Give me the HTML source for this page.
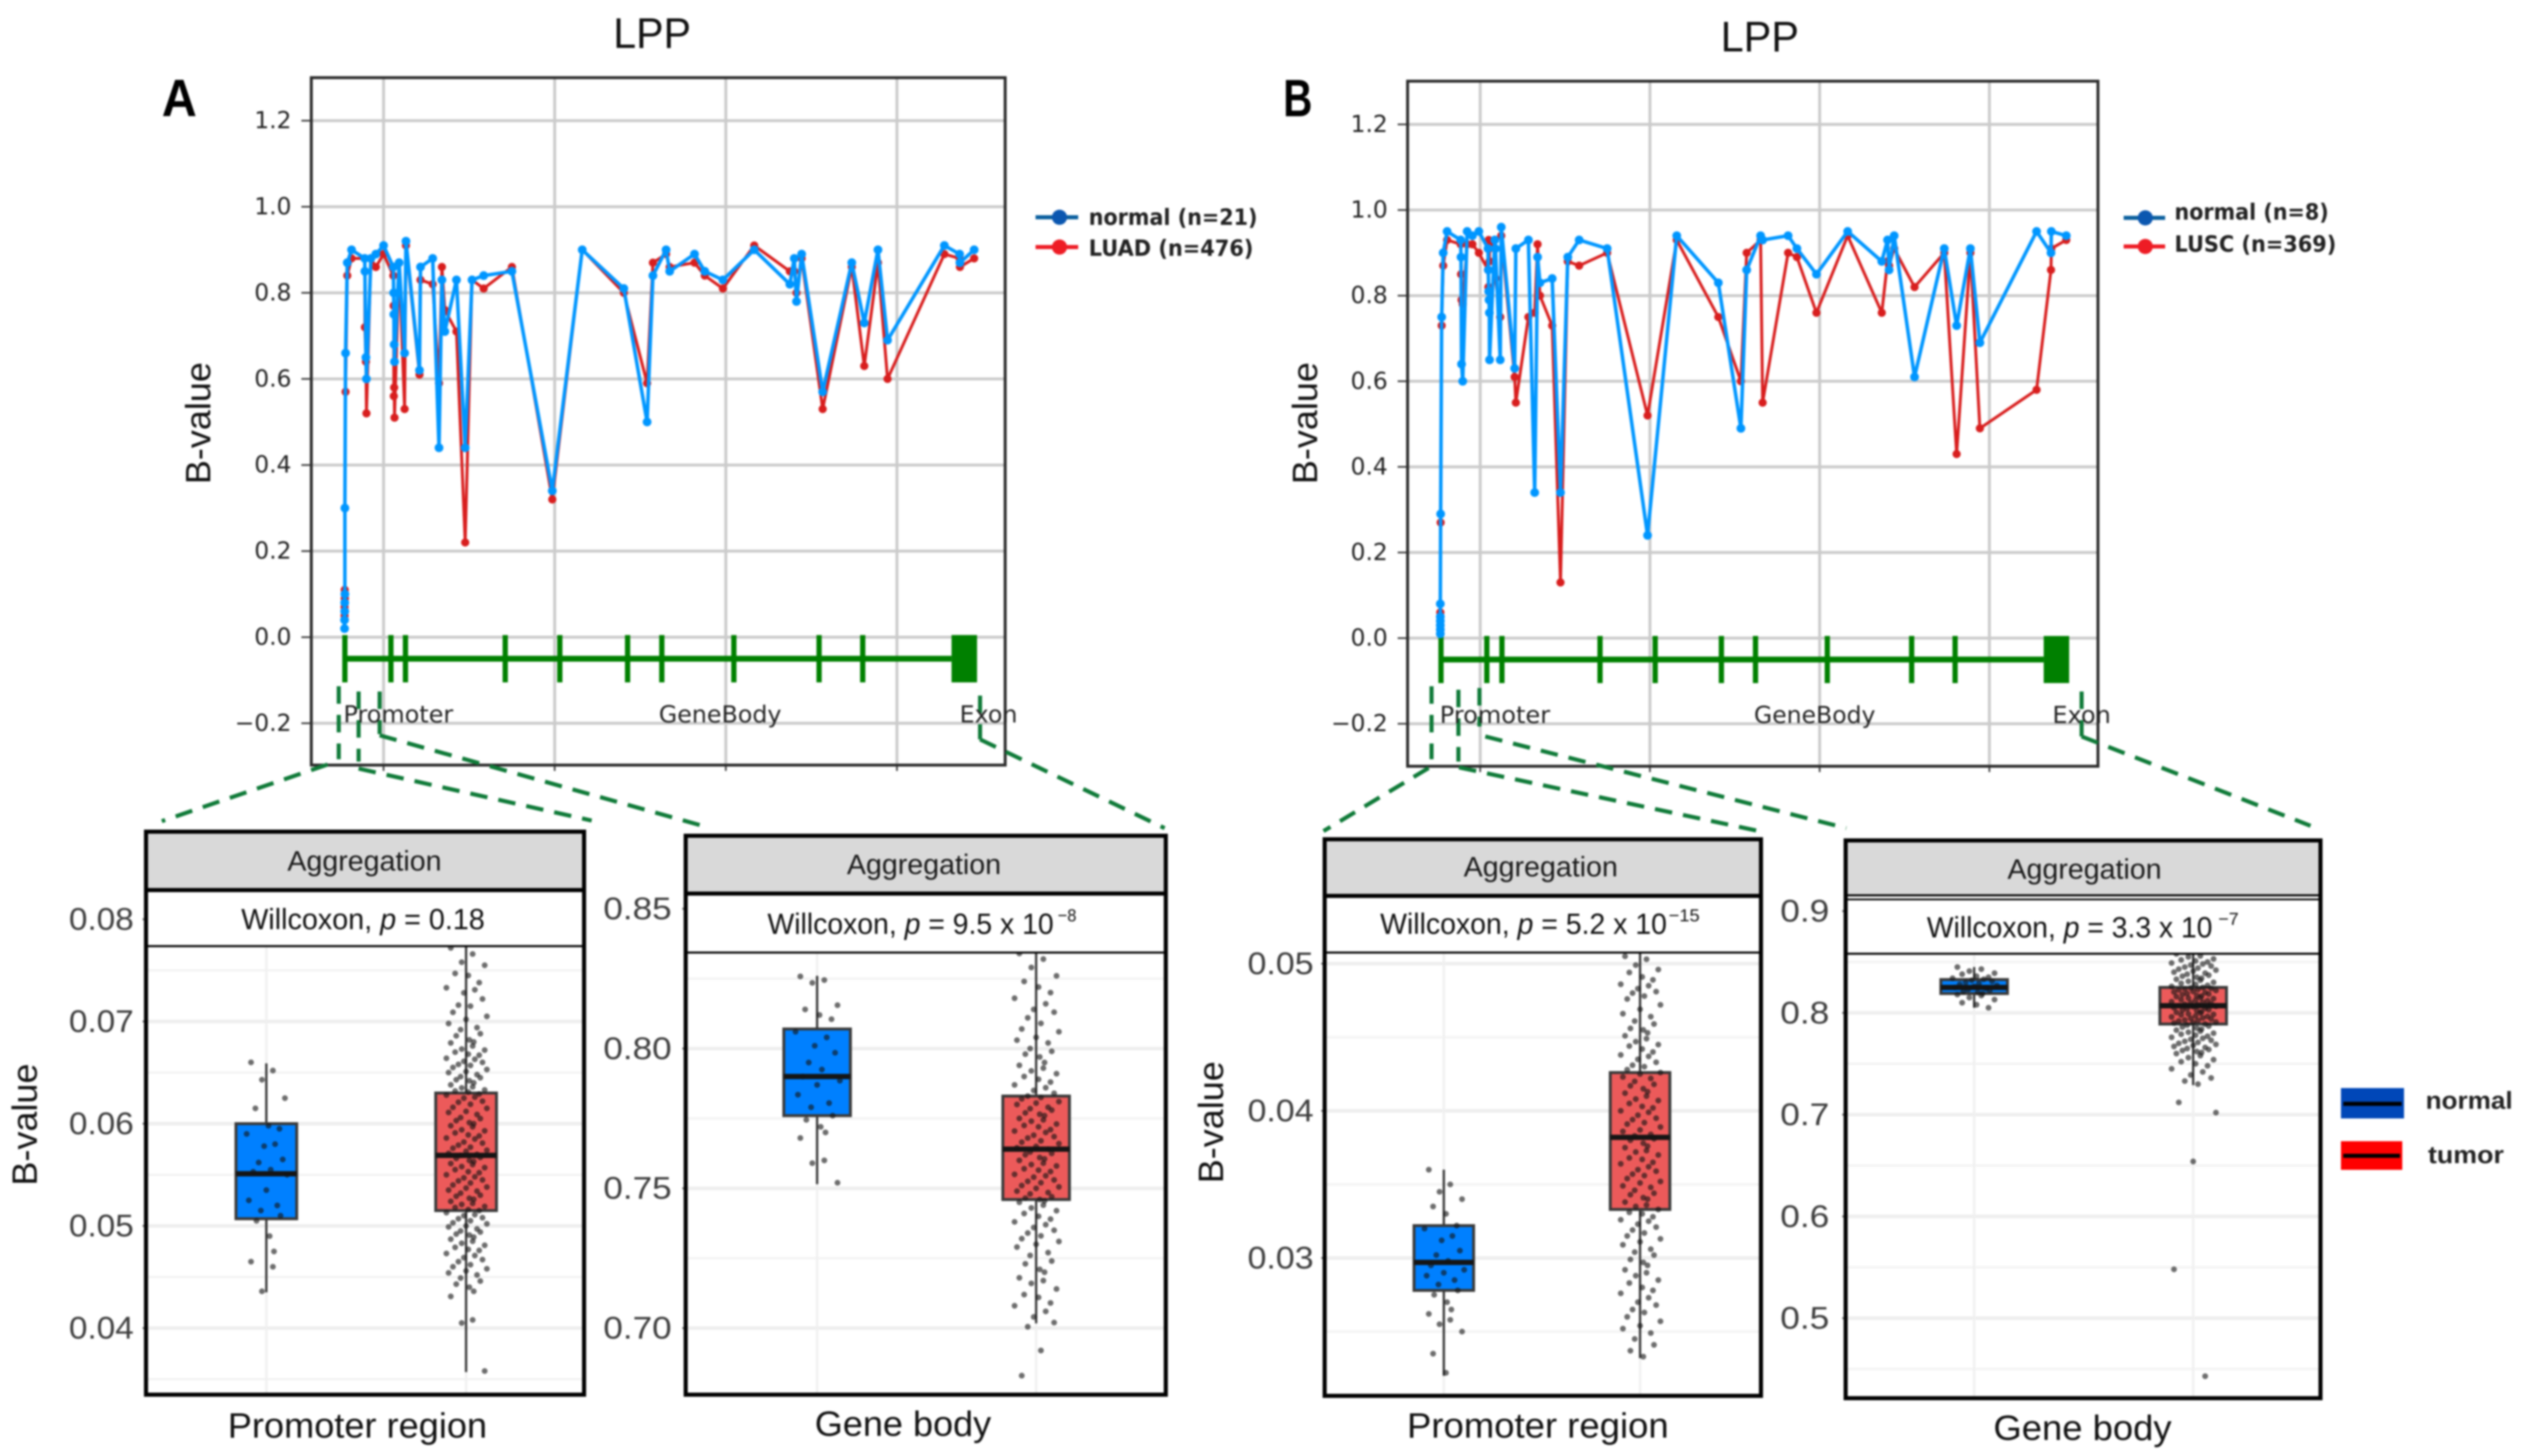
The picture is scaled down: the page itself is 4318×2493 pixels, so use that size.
<!DOCTYPE html>
<html lang="en">
<head>
<meta charset="utf-8">
<title>LPP methylation B-value figure</title>
<style>
html,body{margin:0;padding:0;background:#fff;}
svg{display:block;filter:blur(1.6px);}
text{font-family:"Liberation Sans",sans-serif;}
.dv{font-family:"DejaVu Sans",sans-serif;}
</style>
</head>
<body>
<svg id="fig" xmlns="http://www.w3.org/2000/svg" width="4318" height="2493" viewBox="0 0 4318 2493">
<rect x="0" y="0" width="4318" height="2493" fill="#fff"/>
<g id="panel-a"></g>
<g id="panel-b"></g>
<g id="box1"></g>
<g id="box2"></g>
<g id="box3"></g>
<g id="box4"></g>

<g fill="none" stroke="#0f7a38" stroke-width="7" stroke-dasharray="30 19">
<line x1="580" y1="1175" x2="580" y2="1300"/>
<line x1="614" y1="1184" x2="614" y2="1304"/>
<line x1="650" y1="1184" x2="650" y2="1257"/>
<line x1="650" y1="1259" x2="1203" y2="1414"/>
<line x1="614" y1="1316" x2="1013" y2="1405"/>
<line x1="561" y1="1309" x2="277" y2="1406"/>
<line x1="1678" y1="1191" x2="1678" y2="1266"/>
<line x1="1678" y1="1266" x2="1994" y2="1418"/>
<line x1="2451" y1="1175" x2="2451" y2="1300"/>
<line x1="2497" y1="1181" x2="2497" y2="1304"/>
<line x1="2533" y1="1178" x2="2533" y2="1244"/>
<line x1="2543" y1="1261" x2="3161" y2="1418"/>
<line x1="2498" y1="1314" x2="3007" y2="1422"/>
<line x1="2446" y1="1315" x2="2266" y2="1423"/>
<line x1="3564" y1="1184" x2="3564" y2="1261"/>
<line x1="3564" y1="1261" x2="3956" y2="1414"/>
</g>

<text x="1050" y="82" font-size="73" textLength="133" lengthAdjust="spacingAndGlyphs" fill="#111">LPP</text>
<text x="2946" y="88" font-size="73" textLength="134" lengthAdjust="spacingAndGlyphs" fill="#111">LPP</text>
<text x="277" y="199" font-size="90" font-weight="700" textLength="60" lengthAdjust="spacingAndGlyphs" fill="#000">A</text>
<text x="2197" y="199" font-size="90" font-weight="700" textLength="50" lengthAdjust="spacingAndGlyphs" fill="#000">B</text>
<text transform="translate(360,829) rotate(-90)" font-size="60" textLength="209" lengthAdjust="spacingAndGlyphs" fill="#111">B-value</text>
<text transform="translate(2255,829) rotate(-90)" font-size="60" textLength="209" lengthAdjust="spacingAndGlyphs" fill="#111">B-value</text>
<text transform="translate(63,2030) rotate(-90)" font-size="60" textLength="209" lengthAdjust="spacingAndGlyphs" fill="#111">B-value</text>
<text transform="translate(2094,2026) rotate(-90)" font-size="60" textLength="209" lengthAdjust="spacingAndGlyphs" fill="#111">B-value</text>

<g class="dv" font-size="40" fill="#222" dominant-baseline="central">
<text class="dv" x="588" y="1224" textLength="188" lengthAdjust="spacingAndGlyphs" dominant-baseline="central">Promoter</text>
<text class="dv" x="1128" y="1224" textLength="210" lengthAdjust="spacingAndGlyphs" dominant-baseline="central">GeneBody</text>
<text class="dv" x="1643" y="1224" textLength="99" lengthAdjust="spacingAndGlyphs" dominant-baseline="central">Exon</text>
<text class="dv" x="2465" y="1225" textLength="189" lengthAdjust="spacingAndGlyphs" dominant-baseline="central">Promoter</text>
<text class="dv" x="3003" y="1225" textLength="208" lengthAdjust="spacingAndGlyphs" dominant-baseline="central">GeneBody</text>
<text class="dv" x="3514" y="1225" textLength="100" lengthAdjust="spacingAndGlyphs" dominant-baseline="central">Exon</text>
</g>

<g>
<line x1="1773" y1="372" x2="1846" y2="372" stroke="#0a5f9e" stroke-width="7"/>
<circle cx="1814" cy="372" r="13" fill="#0b57b0"/>
<text class="dv" x="1864" y="372" font-size="38" font-weight="700" fill="#222" textLength="289" lengthAdjust="spacingAndGlyphs" dominant-baseline="central">normal (n=21)</text>
<line x1="1773" y1="423" x2="1846" y2="423" stroke="#ee1c25" stroke-width="7"/>
<circle cx="1814" cy="423" r="13" fill="#ee1c25"/>
<text class="dv" x="1864" y="425" font-size="38" font-weight="700" fill="#222" textLength="282" lengthAdjust="spacingAndGlyphs" dominant-baseline="central">LUAD (n=476)</text>
</g>
<g>
<line x1="3636" y1="373" x2="3707" y2="373" stroke="#0a5f9e" stroke-width="7"/>
<circle cx="3673" cy="373" r="13" fill="#0b57b0"/>
<text class="dv" x="3723" y="363" font-size="38" font-weight="700" fill="#222" textLength="264" lengthAdjust="spacingAndGlyphs" dominant-baseline="central">normal (n=8)</text>
<line x1="3636" y1="422" x2="3707" y2="422" stroke="#ee1c25" stroke-width="7"/>
<circle cx="3673" cy="422" r="13" fill="#ee1c25"/>
<text class="dv" x="3723" y="418" font-size="38" font-weight="700" fill="#222" textLength="277" lengthAdjust="spacingAndGlyphs" dominant-baseline="central">LUSC (n=369)</text>
</g>
<g>
<rect x="4008" y="1863" width="108" height="52" fill="#0047b8"/>
<line x1="4012" y1="1890" x2="4112" y2="1890" stroke="#000" stroke-width="7"/>
<text x="4153" y="1884" font-size="42" font-weight="700" fill="#222" textLength="149" lengthAdjust="spacingAndGlyphs" dominant-baseline="central">normal</text>
<rect x="4008" y="1954" width="105" height="49" fill="#ff0000"/>
<line x1="4012" y1="1979" x2="4109" y2="1979" stroke="#000" stroke-width="7"/>
<text x="4157" y="1977" font-size="42" font-weight="700" fill="#222" textLength="130" lengthAdjust="spacingAndGlyphs" dominant-baseline="central">tumor</text>
</g>

<text x="390" y="2441" font-size="60" fill="#111" textLength="444" lengthAdjust="spacingAndGlyphs" dominant-baseline="central">Promoter region</text>
<text x="1395" y="2438" font-size="60" fill="#111" textLength="302" lengthAdjust="spacingAndGlyphs" dominant-baseline="central">Gene body</text>
<text x="2409" y="2441" font-size="60" fill="#111" textLength="448" lengthAdjust="spacingAndGlyphs" dominant-baseline="central">Promoter region</text>
<text x="3413" y="2445" font-size="60" fill="#111" textLength="305" lengthAdjust="spacingAndGlyphs" dominant-baseline="central">Gene body</text>
</svg>

<script>
// ---------- line chart data ----------
const yTicksTop = [1.2, 1.0, 0.8, 0.6, 0.4, 0.2, 0.0, -0.2];
const xGridTop = [0, 1000, 2000, 3000];

const positionA = [-228,-228,-227,-227,-226,-226,-222,-212,-187,-110,-109,-103,-100,-74,-45,0,57,59,60,62,64,91,123,131,210,216,287,324,341,358,426,477,517,585,750,986,1161,1404,1540,1574,1651,1672,1817,1877,1983,2166,2374,2400,2413,2443,2566,2736,2809,2889,2945,3277,3366,3368,3451];
const normalA = [.02,.04,.06,.08,.10,.30,.66,.87,.90,.88,.85,.65,.60,.88,.89,.91,.86,.80,.75,.68,.64,.87,.66,.92,.62,.86,.88,.44,.83,.71,.83,.44,.83,.84,.85,.34,.90,.81,.50,.84,.90,.85,.89,.85,.83,.90,.82,.88,.78,.89,.57,.87,.73,.90,.69,.91,.89,.87,.90];
const tumorA = [.05,.07,.09,.11,.09,.30,.57,.84,.88,.88,.72,.64,.52,.88,.86,.89,.84,.77,.56,.58,.51,.87,.53,.91,.61,.83,.82,.59,.86,.76,.71,.22,.83,.81,.86,.32,.90,.80,.59,.87,.89,.86,.87,.84,.81,.91,.85,.85,.80,.88,.53,.86,.63,.87,.60,.89,.88,.86,.88];
const exonsA = [-226,43,128,711,1030,1426,1626,2047,2545,2800];
const lastExonA = [3319,3468];

const positionB = [-235,-235,-235,-235,-235,-235,-233,-227,-218,-195,-115,-113,-110,-103,-77,-46,-8,46,48,50,52,54,55,86,90,118,124,203,210,284,321,338,352,424,473,516,583,748,986,1158,1403,1536,1570,1652,1664,1814,1866,1981,2165,2366,2400,2409,2439,2559,2734,2807,2888,2944,3278,3363,3365,3453];
const normalB = [.01,.02,.03,.04,.05,.08,.29,.75,.90,.95,.93,.89,.64,.60,.95,.94,.95,.91,.86,.81,.79,.76,.65,.93,.91,.65,.96,.63,.91,.93,.34,.89,.83,.84,.34,.89,.93,.91,.24,.94,.83,.49,.86,.94,.93,.94,.91,.85,.95,.88,.93,.86,.94,.61,.91,.73,.91,.69,.95,.90,.95,.94];
const tumorB = [.02,.04,.03,.05,.06,.06,.27,.73,.87,.93,.92,.85,.79,.78,.92,.92,.90,.86,.82,.93,.92,.88,.91,.93,.84,.75,.94,.61,.55,.75,.76,.92,.80,.73,.13,.88,.87,.90,.52,.93,.75,.60,.90,.93,.55,.90,.89,.76,.94,.76,.88,.87,.91,.82,.90,.43,.90,.49,.58,.86,.91,.93];
const exonsB = [-231,39,128,706,1031,1421,1622,2045,2542,2798];
const lastExonB = [3320,3470];

// ---------- box plot data: [q1, median, q3, whiskerLow, whiskerHigh] ----------
const statsP1Normal = [.0507,.0551,.0600,.0435,.0659];
const statsP1Tumor  = [.0515,.0569,.0630,.0357,.0775];
const statsP2Normal = [.776,.790,.807,.7515,.826];
const statsP2Tumor  = [.746,.764,.783,.7017,.834];
const statsP3Normal = [.0278,.0297,.0322,.0220,.0360];
const statsP3Tumor  = [.0333,.0382,.0426,.0232,.0507];
const statsP4Normal = [.819,.825,.8327,.805,.845];
const statsP4Tumor  = [.789,.807,.825,.729,.858];

const ticksP1 = ['0.08','0.07','0.06','0.05','0.04'];
const ticksP2 = ['0.85','0.80','0.75','0.70'];
const ticksP3 = ['0.05','0.04','0.03'];
const ticksP4 = ['0.9','0.8','0.7','0.6','0.5'];
const minorP1 = [.075,.065,.055,.045,.035];
const minorP2 = [.825,.775,.725];
const minorP3 = [.045,.035,.025];
const minorP4 = [.85,.75,.65,.55,.45];

// individual samples, read approximately from the strip of jittered dots
const dotsP1Normal = [.0660,.0652,.0643,.0625,.0615,.0598,.0595,.0590,.0580,.0578,.0565,.0562,.0555,.0553,.0550,.0535,.0525,.0520,.0515,.0510,.0505,.0490,.0475,.0465,.0460,.0436];
const dotsP1Tumor = [.0772,.0766,.0758,.0755,.0747,.0745,.0738,.0733,.0731,.0728,.0722,.0716,.0715,.0709,.0705,.0702,.0698,.0694,.0692,.0688,.0686,.0682,.0680,.0679,.0676,.0673,.0672,.0670,.0668,.0667,.0664,.0663,.0661,.0660,.0658,.0657,.0655,.0653,.0651,.0650,.0648,.0646,.0645,.0643,.0642,.0640,.0638,.0636,.0635,.0633,.0632,.0631,.0629,.0628,.0626,.0625,.0622,.0621,.0619,.0616,.0615,.0612,.0611,.0609,.0606,.0605,.0603,.0601,.0600,.0598,.0597,.0594,.0593,.0591,.0589,.0588,.0586,.0585,.0582,.0581,.0579,.0577,.0576,.0574,.0573,.0571,.0570,.0569,.0567,.0566,.0564,.0563,.0561,.0560,.0558,.0557,.0555,.0553,.0552,.0550,.0548,.0547,.0545,.0544,.0542,.0540,.0538,.0537,.0535,.0534,.0532,.0530,.0529,.0527,.0526,.0524,.0522,.0521,.0519,.0518,.0516,.0515,.0513,.0511,.0510,.0508,.0507,.0505,.0503,.0502,.0500,.0499,.0497,.0495,.0494,.0492,.0491,.0489,.0487,.0485,.0483,.0481,.0479,.0477,.0476,.0473,.0471,.0469,.0467,.0465,.0462,.0460,.0458,.0456,.0454,.0452,.0449,.0446,.0443,.0440,.0436,.0431,.0408,.0405,.0358];
const dotsP2Normal = [.8258,.8245,.8235,.8155,.8140,.8120,.8105,.8060,.8040,.8010,.7985,.7950,.7925,.7900,.7885,.7870,.7835,.7805,.7790,.7760,.7745,.7720,.7700,.7680,.7600,.7590,.7520];
const dotsP2Tumor = [.834,.832,.829,.826,.824,.822,.820,.818,.816,.814,.813,.811,.809,.807,.806,.804,.803,.802,.800,.799,.798,.797,.795,.794,.793,.792,.791,.790,.789,.788,.787,.786,.785,.784,.783,.7825,.782,.781,.7805,.780,.779,.7785,.778,.777,.7765,.776,.775,.7745,.774,.773,.7725,.772,.771,.7705,.770,.769,.7685,.768,.767,.7665,.766,.765,.7645,.764,.763,.7625,.762,.761,.7605,.760,.759,.7585,.758,.757,.7565,.756,.755,.7545,.754,.753,.7525,.752,.751,.7505,.750,.749,.7485,.748,.747,.7465,.746,.7455,.745,.744,.743,.742,.741,.740,.739,.738,.737,.736,.735,.734,.733,.732,.731,.730,.729,.727,.726,.724,.723,.721,.720,.718,.717,.716,.714,.712,.711,.709,.708,.706,.704,.702,.7005,.692,.683];
const dotsP3Normal = [.0360,.0350,.0345,.0340,.0335,.0330,.0322,.0320,.0315,.0312,.0305,.0302,.0298,.0295,.0292,.0290,.0288,.0285,.0282,.0278,.0275,.0270,.0265,.0262,.0258,.0255,.0250,.0235,.0222];
const dotsP3Tumor = [.0505,.0503,.0499,.0496,.0494,.0491,.0489,.0486,.0485,.0483,.0481,.0480,.0478,.0476,.0472,.0469,.0466,.0464,.0461,.0459,.0456,.0455,.0453,.0451,.0449,.0447,.0445,.0444,.0442,.0440,.0438,.0437,.0435,.0433,.0431,.0430,.0428,.0426,.0425,.0423,.0422,.0420,.0418,.0417,.0415,.0413,.0412,.0410,.0408,.0407,.0405,.0403,.0402,.0400,.0399,.0397,.0395,.0394,.0392,.0391,.0389,.0387,.0386,.0384,.0383,.0381,.0380,.0378,.0376,.0375,.0373,.0372,.0370,.0368,.0367,.0365,.0364,.0362,.0360,.0359,.0357,.0356,.0354,.0352,.0351,.0349,.0348,.0346,.0344,.0343,.0341,.0340,.0338,.0336,.0335,.0333,.0331,.0330,.0328,.0326,.0325,.0323,.0321,.0319,.0317,.0315,.0313,.0311,.0309,.0306,.0304,.0302,.0299,.0297,.0295,.0292,.0290,.0288,.0285,.0283,.0280,.0278,.0276,.0273,.0270,.0268,.0265,.0263,.0260,.0257,.0254,.0252,.0249,.0245,.0241,.0237,.0233];
const dotsP4Normal = [.845,.843,.841,.839,.838,.836,.835,.834,.833,.832,.831,.830,.829,.828,.827,.826,.825,.824,.823,.822,.821,.820,.819,.818,.817,.815,.813,.810,.808,.805];
const dotsP4Tumor = [.858,.856,.855,.853,.852,.851,.850,.849,.848,.847,.846,.845,.844,.843,.842,.841,.840,.839,.838,.837,.836,.835,.834,.833,.832,.831,.830,.829,.828,.827,.826,.825,.8245,.824,.8235,.823,.8225,.822,.821,.8205,.820,.819,.8185,.818,.817,.8165,.816,.815,.8145,.814,.813,.8125,.812,.811,.8105,.810,.809,.8085,.808,.807,.8065,.806,.805,.8045,.804,.803,.8025,.802,.801,.8005,.800,.799,.7985,.798,.797,.7965,.796,.795,.7945,.794,.793,.7925,.792,.791,.7905,.790,.789,.788,.787,.786,.785,.784,.783,.782,.781,.780,.779,.778,.777,.776,.775,.774,.773,.772,.771,.770,.769,.768,.767,.766,.765,.764,.763,.762,.761,.760,.758,.756,.754,.752,.750,.748,.745,.742,.739,.736,.733,.730,.712,.702,.654,.548,.443];

// horizontal scatter of the strip, as fractions of the half-width
const jitterPattern = [-.7,.3,-.2,.85,-.5,.1,.6,-.9,.4,-.1,.75,-.35,.2,-.6,.95,0,-.8,.5,-.25,.65,-.45,.15,.35];

// ---------- drawing ----------
const NS = 'http://www.w3.org/2000/svg';
function mk(tag, attrs, parent) {
  const el = document.createElementNS(NS, tag);
  for (const k in attrs) el.setAttribute(k, attrs[k]);
  parent.appendChild(el);
  return el;
}

function drawLineChart(g, box, xOf, yOf, positions, normal, tumor, exons, lastExon) {
  for (const t of yTicksTop) {
    const grid = mk('line', {x1: box.l, x2: box.r, y1: yOf(t), y2: yOf(t), stroke: '#cbcbcb', 'stroke-width': 5}, g);
    
    
    const tick = mk('line', {x1: box.l - 17, x2: box.l, y1: yOf(t), y2: yOf(t), stroke: '#444', 'stroke-width': 3}, g);
    
    
    const lab = mk('text', {x: box.l - 34, y: yOf(t), 'font-size': 40, fill: '#222', 'text-anchor': 'end', 'dominant-baseline': 'central', class: 'dv'}, g);
    
    
    lab.textContent = (t < 0 ? '\u2212' : '') + Math.abs(t).toFixed(1);
  }
  for (const v of xGridTop) {
    const grid = mk('line', {x1: xOf(v), x2: xOf(v), y1: box.t, y2: box.b, stroke: '#cbcbcb', 'stroke-width': 5}, g);
    
    
    const tick = mk('line', {x1: xOf(v), x2: xOf(v), y1: box.b, y2: box.b + 10, stroke: '#444', 'stroke-width': 3}, g);
    
    
  }
  const frame = mk('rect', {x: box.l, y: box.t, width: box.r - box.l, height: box.b - box.t, fill: 'none', stroke: '#2b2b2b', 'stroke-width': 5}, g);
  
  

  // gene model
  const backbone = mk('line', {x1: xOf(exons[0]), x2: xOf(lastExon[0]), y1: yOf(-0.05), y2: yOf(-0.05), stroke: '#008000', 'stroke-width': 10}, g);
  
  
  for (const e of exons) {
    const ex = mk('line', {x1: xOf(e), x2: xOf(e), y1: yOf(0.005), y2: yOf(-0.105), stroke: '#008000', 'stroke-width': 9}, g);
    
    
  }
  const block = mk('rect', {x: xOf(lastExon[0]), width: xOf(lastExon[1]) - xOf(lastExon[0]), y: yOf(0.005), height: yOf(-0.105) - yOf(0.005), fill: '#008000'}, g);
  
  

  // tumor series below, normal series on top
  const redPath = mk('polyline', {points: positions.map((p, i) => xOf(p) + ',' + yOf(tumor[i])).join(' '), fill: 'none', stroke: '#d81e1e', 'stroke-width': 5, 'stroke-linejoin': 'round'}, g);
  
  
  positions.forEach((p, i) => {
    const c = mk('circle', {cx: xOf(p), cy: yOf(tumor[i]), r: 7, fill: '#d81e1e'}, g);
    
    
  });
  const bluePath = mk('polyline', {points: positions.map((p, i) => xOf(p) + ',' + yOf(normal[i])).join(' '), fill: 'none', stroke: '#0096ff', 'stroke-width': 6, 'stroke-linejoin': 'round'}, g);
  
  
  positions.forEach((p, i) => {
    const c = mk('circle', {cx: xOf(p), cy: yOf(normal[i]), r: 7.5, fill: '#0096ff'}, g);
    
    
  });
}

drawLineChart(document.getElementById('panel-a'), {l: 533, r: 1721, t: 133, b: 1310},
  v => 656.7 + v * 0.293, v => 1091 - 737 * v, positionA, normalA, tumorA, exonsA, lastExonA);
drawLineChart(document.getElementById('panel-b'), {l: 2410, r: 3592, t: 139, b: 1312},
  v => 2534.3 + v * 0.2906, v => 1092.6 - 733 * v, positionB, normalB, tumorB, exonsB, lastExonB);

function drawBox(g, stats, cx, halfW, yOf, fill, name) {
  const [q1, med, q3, lo, hi] = stats;
  const w = mk('line', {x1: cx, x2: cx, y1: yOf(hi), y2: yOf(lo), stroke: '#3a3a3a', 'stroke-width': 4}, g);
  
  
  const b = mk('rect', {x: cx - halfW, width: halfW * 2, y: yOf(q3), height: yOf(q1) - yOf(q3), fill: fill, stroke: '#3a3a3a', 'stroke-width': 5}, g);
  
  
  const m = mk('line', {x1: cx - halfW, x2: cx + halfW, y1: yOf(med), y2: yOf(med), stroke: '#151515', 'stroke-width': 9}, g);
  
  
}

function drawDots(g, dots, cx, spread, yOf, name) {
  dots.forEach((d, i) => {
    const c = mk('circle', {cx: cx + jitterPattern[i % jitterPattern.length] * spread, cy: yOf(d), r: 5, fill: 'rgba(20,20,20,.62)'}, g);
    
    
  });
}

function drawBoxPanel(g, f, vals, ticks, minor, series, text) {
  const yOf = v => f.y0 + (v - f.v0) * f.k;
  const bg = mk('rect', {x: f.l, y: f.t, width: f.r - f.l, height: f.b - f.t, fill: '#fff'}, g);
  
  
  const plot = f.strip + 2;
  for (const m of minor) {
    if (yOf(m) < plot) continue;
    const gm = mk('line', {x1: f.l, x2: f.r, y1: yOf(m), y2: yOf(m), stroke: '#f3f3f3', 'stroke-width': 4}, g);
    
    
  }
  ticks.forEach((t, i) => {
    const y = yOf(vals[i]);
    if (y >= plot) {
      const gl = mk('line', {x1: f.l, x2: f.r, y1: y, y2: y, stroke: '#eeeeee', 'stroke-width': 6}, g);
      
      
    }
    const tk = mk('line', {x1: f.l - 6, x2: f.l, y1: y, y2: y, stroke: '#666', 'stroke-width': 3}, g);
    
    
    const lab = mk('text', {x: f.labelX, y: y, 'font-size': 54, fill: '#3d3d3d', textLength: f.labelW, lengthAdjust: 'spacingAndGlyphs', 'dominant-baseline': 'central'}, g);
    
    
    lab.textContent = t;
  });
  for (const cx of [f.cxN, f.cxT]) {
    const vg = mk('line', {x1: cx, x2: cx, y1: plot, y2: f.b, stroke: '#f0f0f0', 'stroke-width': 4}, g);
    
    
  }
  drawBox(g, series.sN, f.cxN, f.hw, yOf, '#0080ff', 'normal');
  drawBox(g, series.sT, f.cxT, f.hw, yOf, '#ec5a5a', 'tumor');
  drawDots(g, series.dN, f.cxN, f.hw * 0.72, yOf, 'normal');
  drawDots(g, series.dT, f.cxT, f.hw * 0.72, yOf, 'tumor');

  const header = mk('rect', {x: f.l, y: f.t, width: f.r - f.l, height: f.head - f.t, fill: '#d9d9d9'}, g);
  
  
  const strip = mk('rect', {x: f.l, y: f.head, width: f.r - f.l, height: f.strip - f.head, fill: '#fff'}, g);
  
  
  const l1 = mk('line', {x1: f.l, x2: f.r, y1: f.head, y2: f.head, stroke: '#000', 'stroke-width': f.headW}, g);
  
  
  if (f.head2) {
    const l1b = mk('line', {x1: f.l, x2: f.r, y1: f.head2, y2: f.head2, stroke: '#000', 'stroke-width': 3}, g);
    
    
  }
  const l2 = mk('line', {x1: f.l, x2: f.r, y1: f.strip, y2: f.strip, stroke: '#000', 'stroke-width': 3.5}, g);
  
  
  const fr = mk('rect', {x: f.l, y: f.t, width: f.r - f.l, height: f.b - f.t, fill: 'none', stroke: '#000', 'stroke-width': 7}, g);
  
  

  const ag = mk('text', {x: text.agX, y: text.agY, 'font-size': 48, fill: '#1a1a1a', 'text-anchor': 'middle', 'dominant-baseline': 'central', textLength: 264, lengthAdjust: 'spacingAndGlyphs'}, g);
  
  
  ag.textContent = 'Aggregation';
  const wt = mk('text', {x: text.wX, y: text.wY, 'font-size': 50, fill: '#111', textLength: text.wW, lengthAdjust: 'spacingAndGlyphs', 'dominant-baseline': 'central'}, g);
  
  
  wt.appendChild(document.createTextNode('Willcoxon, '));
  const it = mk('tspan', {'font-style': 'italic'}, wt);
  it.textContent = 'p';
  wt.appendChild(document.createTextNode(text.rest));
  if (text.sup) {
    const st = mk('text', {x: text.supX, y: text.wY - 14, 'font-size': 30, fill: '#111', textLength: text.supW, lengthAdjust: 'spacingAndGlyphs', 'dominant-baseline': 'central'}, g);
    
    
    st.textContent = text.sup;
  }
}

drawBoxPanel(document.getElementById('box1'),
  {l: 250, r: 1000, t: 1424, head: 1524, headW: 7, strip: 1620, b: 2388, y0: 1574, v0: .08, k: -17500, labelX: 118, labelW: 111, cxN: 456, cxT: 798, hw: 52},
  [.08,.07,.06,.05,.04], ticksP1, minorP1,
  {sN: statsP1Normal, sT: statsP1Tumor, dN: dotsP1Normal, dT: dotsP1Tumor},
  {agX: 624, agY: 1475, wX: 413, wY: 1574, wW: 417, rest: ' = 0.18', sup: ''});

drawBoxPanel(document.getElementById('box2'),
  {l: 1174, r: 1996, t: 1431, head: 1530, headW: 7, strip: 1631, b: 2388, y0: 1556, v0: .85, k: -4787, labelX: 1033, labelW: 117, cxN: 1399, cxT: 1774, hw: 57},
  [.85,.80,.75,.70], ticksP2, minorP2,
  {sN: statsP2Normal, sT: statsP2Tumor, dN: dotsP2Normal, dT: dotsP2Tumor},
  {agX: 1582, agY: 1481, wX: 1314, wY: 1582, wW: 490, rest: ' = 9.5 x 10', sup: '\u22128', supX: 1811, supW: 32});

drawBoxPanel(document.getElementById('box3'),
  {l: 2268, r: 3015, t: 1437, head: 1534, headW: 7, strip: 1631, b: 2390, y0: 1650, v0: .05, k: -25200, labelX: 2136, labelW: 113, cxN: 2472, cxT: 2808, hw: 51},
  [.05,.04,.03], ticksP3, minorP3,
  {sN: statsP3Normal, sT: statsP3Tumor, dN: dotsP3Normal, dT: dotsP3Tumor},
  {agX: 2638, agY: 1485, wX: 2363, wY: 1582, wW: 491, rest: ' = 5.2 x 10', sup: '\u221215', supX: 2857, supW: 53});

drawBoxPanel(document.getElementById('box4'),
  {l: 3160, r: 3973, t: 1439, head: 1533, headW: 3.5, head2: 1540, strip: 1633, b: 2394, y0: 1560, v0: .9, k: -1742.5, labelX: 3048, labelW: 84, cxN: 3380, cxT: 3755, hw: 57},
  [.9,.8,.7,.6,.5], ticksP4, minorP4,
  {sN: statsP4Normal, sT: statsP4Tumor, dN: dotsP4Normal, dT: dotsP4Tumor},
  {agX: 3569, agY: 1489, wX: 3299, wY: 1588, wW: 489, rest: ' = 3.3 x 10', sup: '\u22127', supX: 3798, supW: 35});
</script>
</body>
</html>
